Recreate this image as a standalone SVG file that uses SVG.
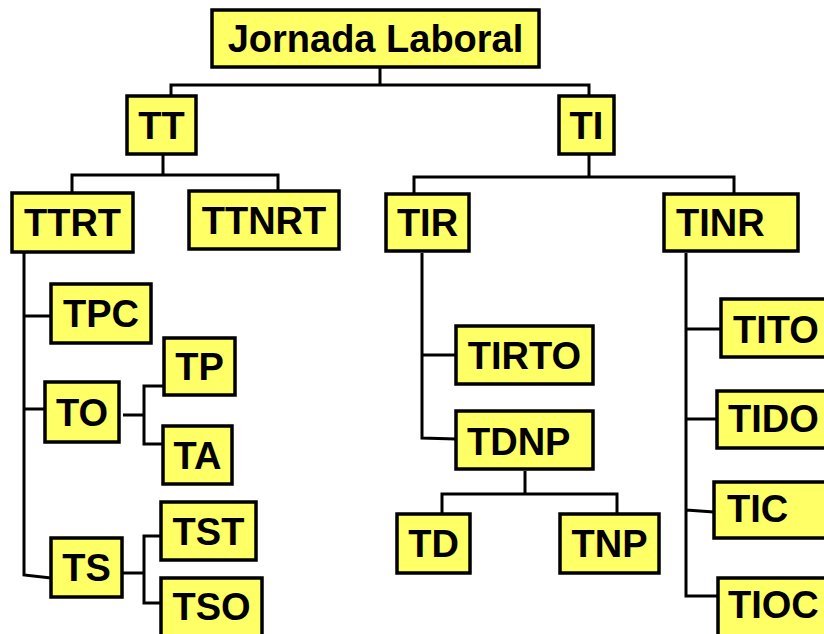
<svg xmlns="http://www.w3.org/2000/svg" width="824" height="634" viewBox="0 0 824 634">
<style>
.n rect{fill:#ffff66;stroke:#000;stroke-width:3.5}
.n text{font-family:"Liberation Sans",Arial,sans-serif;font-weight:bold;font-size:38px;fill:#000;text-anchor:middle}
.n text.l{text-anchor:start}
#edges path{fill:none;stroke:#000;stroke-width:3}
</style>
<rect width="824" height="634" fill="#fff"/>
<g id="edges">
<path d="M380,68V85M171,95V85H589V96"/>
<path d="M163,154V175M72,193V175H278V191"/>
<path d="M589,154V177M414,194V177H734V194"/>
<path d="M24,253V575L51,578M24,316H52M24,409H45"/>
<path d="M123,415H144M164,386H144V444H163"/>
<path d="M122,573H144M161,536H144V603H161"/>
<path d="M422,253V438L456,439M422,355H456"/>
<path d="M525,471V494M442,514V494H617V514"/>
<path d="M686,253V596H718M686,329H721M686,419H717M686,510L714,512"/>
</g>
<g id="jornada" class="n"><rect x="212" y="10" width="327" height="57"/><text x="375.5" y="52">Jornada Laboral</text></g>
<g id="tt" class="n"><rect x="127" y="96" width="69" height="58"/><text x="161.5" y="139">TT</text></g>
<g id="ti" class="n"><rect x="559" y="96" width="55" height="58"/><text x="586.5" y="139">TI</text></g>
<g id="ttrt" class="n"><rect x="12" y="193" width="121" height="59"/><text x="72.5" y="236">TTRT</text></g>
<g id="ttnrt" class="n"><rect x="189" y="191" width="150" height="58"/><text x="264" y="234">TTNRT</text></g>
<g id="tir" class="n"><rect x="386" y="194" width="83" height="57"/><text x="427.5" y="236">TIR</text></g>
<g id="tinr" class="n"><rect x="664" y="194" width="134" height="57"/><text class="l" x="676" y="236">TINR</text></g>
<g id="tpc" class="n"><rect x="51" y="284" width="100" height="59"/><text x="101" y="327">TPC</text></g>
<g id="to" class="n"><rect x="45" y="382" width="74" height="60"/><text x="82" y="426">TO</text></g>
<g id="ts" class="n"><rect x="51" y="538" width="71" height="59"/><text x="86.5" y="581">TS</text></g>
<g id="tp" class="n"><rect x="164" y="338" width="71" height="57"/><text x="199.5" y="380">TP</text></g>
<g id="ta" class="n"><rect x="163" y="426" width="69" height="58"/><text x="197.5" y="469">TA</text></g>
<g id="tst" class="n"><rect x="161" y="502" width="95" height="58"/><text x="208.5" y="545">TST</text></g>
<g id="tso" class="n"><rect x="161" y="578" width="101" height="62"/><text x="211.5" y="620">TSO</text></g>
<g id="tirto" class="n"><rect x="456" y="326" width="137" height="58"/><text x="524.5" y="369">TIRTO</text></g>
<g id="tdnp" class="n"><rect x="456" y="411" width="137" height="58"/><text class="l" x="467" y="455">TDNP</text></g>
<g id="td" class="n"><rect x="397" y="514" width="73" height="59"/><text x="433.5" y="557">TD</text></g>
<g id="tnp" class="n"><rect x="560" y="514" width="99" height="59"/><text x="609.5" y="557">TNP</text></g>
<g id="tito" class="n"><rect x="721" y="299" width="120" height="58"/><text class="l" x="733" y="343">TITO</text></g>
<g id="tido" class="n"><rect x="717" y="391" width="120" height="57"/><text class="l" x="728" y="432">TIDO</text></g>
<g id="tic" class="n"><rect x="714" y="482" width="120" height="56"/><text class="l" x="727" y="522">TIC</text></g>
<g id="tioc" class="n"><rect x="718" y="578" width="120" height="70"/><text class="l" x="728" y="618">TIOC</text></g>
</svg>
